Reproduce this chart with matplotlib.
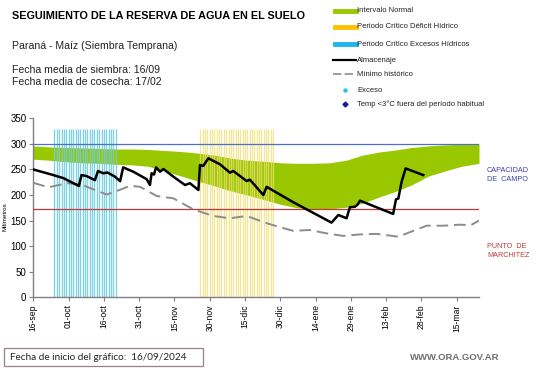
import matplotlib
matplotlib.use("Agg")
import matplotlib.pyplot as plt
from matplotlib.lines import Line2D
from matplotlib.patches import Rectangle
import numpy as np

plt.rcParams['font.family'] = ['Liberation Sans', 'DejaVu Sans']

# ---------------- data (x = days since 16-sep-2024) ----------------
tick_days = [0, 15, 30, 45, 60, 75, 90, 105, 120, 135, 150, 165, 180]
tick_labels = ["16-sep", "01-oct", "16-oct", "31-oct", "15-nov", "30-nov", "15-dic",
               "30-dic", "14-ene", "29-ene", "13-feb", "28-feb", "15-mar"]

band_days = [0, 7, 14, 21, 28, 35, 42, 49, 56, 63, 70, 77, 84, 91, 98, 105, 112,
             119, 126, 133, 140, 147, 154, 161, 168, 175, 182, 189.5]
band_upper = [296, 294, 293, 292, 291, 290, 290, 289, 287, 285, 282, 278, 272, 268,
              266, 263, 262, 262, 263, 268, 278, 284, 288, 293, 296, 298, 299, 300]
band_lower = [270, 268, 265, 263, 262, 260, 259, 256, 247, 237, 227, 218, 208, 200,
              191, 182, 175, 173, 173, 176, 184, 196, 207, 220, 237, 247, 256, 262]

min_days = [0, 6.4, 14.2, 19.9, 25, 31.2, 34.8, 41.1, 45.4, 52.5, 59.5, 68, 76.5,
            83.6, 90.7, 99.2, 104.9, 110.5, 117.6, 124.7, 131.8, 138.9, 146, 155.2,
            161.6, 167.2, 174.3, 181.4, 186, 189.5]
min_vals = [224, 215, 223, 221.5, 212, 201, 206.5, 218, 216, 198, 193.6, 172, 159,
            154.5, 159, 145, 137, 130, 131.6, 125, 120, 123, 124, 118.5, 130, 140,
            140, 142, 141, 150]

alm_days = [0, 8.5, 12.8, 19.4, 20.5, 22.7, 26.2, 27.5, 29.7, 31.5, 34.7, 36.9, 38.2,
            42.5, 48.2, 49.6, 50.3, 51.3, 52.2, 53.9, 55.3, 59.5, 64.5, 66.6, 70.2,
            70.9, 72.3, 74.4, 79.4, 83.6, 85, 90.7, 92.1, 97.8, 99.2, 110.5, 126.8,
            129.7, 133.2, 134.6, 136.7, 137.8, 138.9, 153, 154.2, 155.2, 156.6, 158.3,
            165.8]
alm_vals = [250, 239, 233, 217.6, 239, 237, 229, 247, 242.5, 244, 236, 227, 254,
            245.6, 231, 219.6, 242.5, 240, 254, 245.6, 250.8, 236, 219.6, 223, 209.8,
            258.7, 257, 271.8, 260, 243.7, 247, 227.4, 230, 200, 216, 186, 146,
            161, 154.5, 176, 177, 180.6, 189, 163, 191.6, 193, 226, 252,
            239]

excess_days = list(range(9, 36))       # Periodo crítico excesos hídricos
deficit_days = list(range(71, 103))    # Periodo crítico déficit hídrico
bar_height = 330
capacidad_campo = 300
punto_marchitez = 172

# ---------------- figure ----------------
W, H = 541, 368
fig = plt.figure(figsize=(W / 100, H / 100), dpi=100)
ax = fig.add_axes([33.3 / W, 1 - 297.3 / H, (479 - 33.3) / W, (297.3 - 118.3) / H])

GREEN = "#99c800"
ax.fill_between(band_days, band_lower, band_upper, color=GREEN, lw=0, zorder=1)
ax.vlines(excess_days, 0, bar_height, colors="#6fcde0", lw=0.95, alpha=0.9, zorder=2)
ax.vlines(deficit_days, 0, bar_height, colors="#f0de74", lw=0.95, alpha=0.75, zorder=2)
ax.axhline(capacidad_campo, color="#4a72c0", lw=0.9, zorder=3)
ax.axhline(punto_marchitez, color="#c0393b", lw=0.9, zorder=3)
ax.plot(min_days, min_vals, color="#8c8c8c", lw=1.4, dashes=(6, 3), zorder=4)
ax.plot(alm_days, alm_vals, color="black", lw=1.8, zorder=5)

ax.set_xlim(0, 189.5)
ax.set_ylim(0, 350)
ax.set_yticks(range(0, 351, 50))
ax.set_xticks(tick_days)
ax.set_xticklabels(tick_labels, rotation=90, fontsize=6.2)
ax.tick_params(axis='y', labelsize=7, length=3, color="#808080", pad=2)
ax.tick_params(axis='x', length=3, color="#808080", pad=2)
for s in ["top", "right"]:
    ax.spines[s].set_visible(False)
for s in ["left", "bottom"]:
    ax.spines[s].set_color("#808080")
    ax.spines[s].set_linewidth(1.0)
ax.set_ylabel("Milímetros", fontsize=4.5, labelpad=1)
ax.yaxis.set_label_coords(-0.058, 0.45)


def P(x, y):
    return (x / W, 1 - y / H)


# texts
fig.text(*P(12, 16), "SEGUIMIENTO DE LA RESERVA DE AGUA EN EL SUELO", fontsize=7.8,
         fontweight="bold", va="center", ha="left")
fig.text(*P(12, 46), "Paraná - Maíz (Siembra Temprana)", fontsize=7.6, va="center",
         color="#222222")
fig.text(*P(12, 70), "Fecha media de siembra: 16/09", fontsize=7.6, va="center",
         color="#222222")
fig.text(*P(12, 82), "Fecha media de cosecha: 17/02", fontsize=7.6, va="center",
         color="#222222")

fig.text(*P(487, 175), "CAPACIDAD\nDE  CAMPO", fontsize=5.2, color="#3b3fb0",
         va="center", ha="left", linespacing=1.3)
fig.text(*P(487, 251), "PUNTO  DE\nMARCHITEZ", fontsize=5.2, color="#c0393b",
         va="center", ha="left", linespacing=1.3)

# legend
leg_items = [
    ("Intervalo Normal", dict(color=GREEN, lw=3.5), None),
    ("Periodo Crítico Déficit Hídrico", dict(color="#ffc000", lw=3.5), None),
    ("Periodo Crítico Excesos Hídricos", dict(color="#1fb6ea", lw=3.5), None),
    ("Almacenaje", dict(color="black", lw=1.6), None),
    ("Mínimo histórico", dict(color="#8c8c8c", lw=1.2, dashes=(5, 2)), None),
    ("Exceso", None, dict(marker="o", color="#2ec4e6", ms=2.2)),
    ("Temp <3°C fuera del período habitual", None, dict(marker="D", color="#1a1a9a", ms=2.5)),
]
ys = [11, 27, 44, 60, 74, 90, 104]
for (lab, lstyle, mstyle), y in zip(leg_items, ys):
    if lstyle is not None:
        x0, x1 = (335, 356) if lstyle["lw"] > 3 else (333, 356)
        fig.add_artist(Line2D([x0 / W, x1 / W], [1 - y / H, 1 - y / H], **lstyle))
    else:
        fig.add_artist(Line2D([345 / W], [1 - y / H], ls="none", **mstyle))
    fig.text(*P(357, y), lab, fontsize=5.5, va="center", ha="left", color="#222222")

# bottom box
fig.add_artist(Rectangle(P(4, 366), 199 / W, 18 / H, fill=False, ec="#9a7f86", lw=0.9))
fig.text(*P(10, 357), "Fecha de inicio del gráfico:  16/09/2024", fontsize=7.2,
         va="center", ha="left", family=["Lato", "DejaVu Sans"], color="#222222")
fig.text(*P(499, 358), "WWW.ORA.GOV.AR", fontsize=6.8, va="center", ha="right",
         color="#6e6e6e", fontweight="bold")

fig.savefig("out.png", dpi=100)
